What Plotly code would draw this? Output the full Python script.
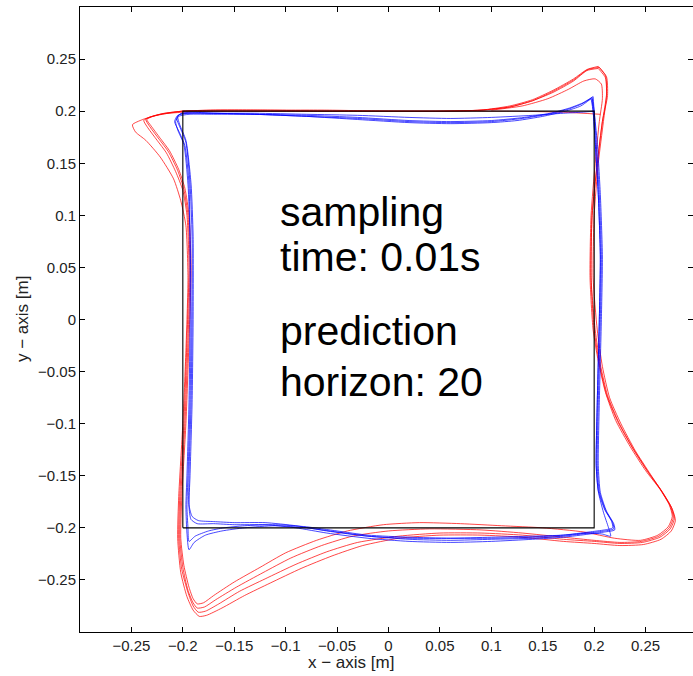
import plotly.graph_objects as go

# ---------------- data ----------------
ref_x = [-0.2, 0.2, 0.2, -0.2, -0.2]
ref_y = [-0.2, -0.2, 0.2, 0.2, -0.2]

# red trajectory, counter-clockwise, split per lap (x, y)
red_lap1 = [(0.206, 0.197), (0.17, 0.199), (0.12, 0.2), (0.06, 0.2), (0.0, 0.2), (-0.06, 0.2),
            (-0.12, 0.2), (-0.17, 0.2), (-0.2, 0.199), (-0.222, 0.197), (-0.239, 0.192),
            (-0.249, 0.187), (-0.246, 0.18), (-0.236, 0.172), (-0.222, 0.156), (-0.209, 0.135),
            (-0.202, 0.114), (-0.197, 0.09), (-0.195, 0.04), (-0.197, -0.03), (-0.2, -0.1),
            (-0.204, -0.17), (-0.205, -0.21), (-0.202, -0.243), (-0.196, -0.266), (-0.19, -0.279),
            (-0.184, -0.285), (-0.177, -0.284), (-0.162, -0.277), (-0.14, -0.265), (-0.115, -0.253),
            (-0.085, -0.239), (-0.055, -0.227), (-0.025, -0.217), (0.01, -0.21), (0.05, -0.207),
            (0.09, -0.207), (0.13, -0.209), (0.17, -0.213), (0.2, -0.215), (0.225, -0.217),
            (0.248, -0.216), (0.265, -0.211), (0.275, -0.203), (0.279, -0.193), (0.276, -0.182),
            (0.267, -0.167), (0.255, -0.149), (0.24, -0.126), (0.226, -0.1), (0.215, -0.075),
            (0.208, -0.045), (0.203, -0.01), (0.199, 0.04), (0.2, 0.1), (0.204, 0.15),
            (0.209, 0.19), (0.212, 0.215), (0.211, 0.232), (0.204, 0.241)]
red_lap2 = [(0.204, 0.241), (0.193, 0.239), (0.18, 0.229), (0.16, 0.218), (0.14, 0.21), (0.118, 0.204),
            (0.09, 0.201), (0.05, 0.2), (0.0, 0.2), (-0.06, 0.2), (-0.12, 0.201), (-0.17, 0.201),
            (-0.2, 0.2), (-0.22, 0.197), (-0.233, 0.194), (-0.238, 0.191), (-0.234, 0.184),
            (-0.225, 0.172), (-0.216, 0.16), (-0.207, 0.142), (-0.2, 0.124), (-0.196, 0.1),
            (-0.194, 0.05), (-0.196, -0.02), (-0.199, -0.1), (-0.203, -0.17), (-0.204, -0.21),
            (-0.201, -0.24), (-0.195, -0.262), (-0.19, -0.275), (-0.185, -0.281), (-0.178, -0.28),
            (-0.165, -0.273), (-0.145, -0.261), (-0.12, -0.249), (-0.09, -0.235), (-0.06, -0.223),
            (-0.03, -0.214), (0.01, -0.208), (0.05, -0.205), (0.09, -0.205), (0.13, -0.207),
            (0.17, -0.211), (0.2, -0.213), (0.225, -0.215), (0.247, -0.214), (0.264, -0.209),
            (0.274, -0.201), (0.278, -0.191), (0.275, -0.18), (0.266, -0.165), (0.253, -0.147),
            (0.238, -0.124), (0.224, -0.099), (0.213, -0.073), (0.206, -0.043), (0.201, -0.01),
            (0.197, 0.04), (0.198, 0.1), (0.203, 0.15), (0.208, 0.19), (0.212, 0.216),
            (0.211, 0.234), (0.204, 0.243)]
red_lap3 = [(0.204, 0.243), (0.193, 0.24), (0.18, 0.231), (0.16, 0.22), (0.14, 0.211), (0.118, 0.205),
            (0.09, 0.201), (0.05, 0.2), (0.0, 0.2), (-0.06, 0.201), (-0.12, 0.201), (-0.17, 0.201),
            (-0.2, 0.2), (-0.218, 0.198), (-0.23, 0.195), (-0.236, 0.192), (-0.232, 0.185),
            (-0.223, 0.173), (-0.214, 0.161), (-0.205, 0.143), (-0.199, 0.125), (-0.195, 0.1),
            (-0.193, 0.05), (-0.195, -0.02), (-0.198, -0.1), (-0.202, -0.17), (-0.203, -0.21),
            (-0.2, -0.238), (-0.195, -0.26), (-0.19, -0.272), (-0.186, -0.277), (-0.179, -0.276),
            (-0.168, -0.269), (-0.148, -0.257), (-0.122, -0.243), (-0.095, -0.229), (-0.065, -0.217),
            (-0.035, -0.208), (0.0, -0.203), (0.04, -0.201), (0.09, -0.202), (0.13, -0.205),
            (0.17, -0.209), (0.2, -0.212), (0.225, -0.214), (0.246, -0.213), (0.263, -0.208),
            (0.273, -0.2), (0.277, -0.19), (0.274, -0.179), (0.265, -0.164), (0.252, -0.146),
            (0.237, -0.123), (0.223, -0.098), (0.212, -0.072), (0.205, -0.042), (0.2, -0.01),
            (0.197, 0.04), (0.198, 0.1), (0.203, 0.15), (0.208, 0.19), (0.213, 0.215),
            (0.212, 0.233), (0.205, 0.242)]
red_lap4 = [(0.205, 0.242), (0.194, 0.24), (0.18, 0.23), (0.16, 0.219), (0.14, 0.21), (0.118, 0.204),
            (0.09, 0.201), (0.05, 0.2), (0.0, 0.2), (-0.06, 0.2), (-0.12, 0.2), (-0.17, 0.2),
            (-0.2, 0.2), (-0.217, 0.198), (-0.229, 0.195), (-0.235, 0.192), (-0.231, 0.186),
            (-0.222, 0.174), (-0.213, 0.162), (-0.204, 0.144), (-0.198, 0.126), (-0.194, 0.1),
            (-0.192, 0.05), (-0.194, -0.02), (-0.197, -0.1), (-0.201, -0.17), (-0.202, -0.21),
            (-0.199, -0.236), (-0.194, -0.257), (-0.19, -0.268), (-0.186, -0.273), (-0.18, -0.272),
            (-0.17, -0.265), (-0.15, -0.252), (-0.125, -0.238), (-0.1, -0.224), (-0.07, -0.212),
            (-0.04, -0.203), (-0.005, -0.197), (0.03, -0.195), (0.07, -0.196), (0.11, -0.198),
            (0.15, -0.2), (0.19, -0.204), (0.22, -0.21), (0.245, -0.212), (0.262, -0.207),
            (0.272, -0.199), (0.276, -0.189), (0.273, -0.178), (0.264, -0.163), (0.25, -0.145),
            (0.235, -0.122), (0.221, -0.097), (0.211, -0.07), (0.204, -0.04), (0.199, -0.01),
            (0.196, 0.04), (0.197, 0.1), (0.201, 0.15), (0.205, 0.19), (0.208, 0.212),
            (0.207, 0.226), (0.201, 0.231), (0.19, 0.229), (0.175, 0.221), (0.155, 0.212),
            (0.13, 0.205), (0.1, 0.201)]

# blue trajectory, counter-clockwise, split per lap (x, y)
blue_lap1 = [(0.2, 0.2), (0.188, 0.199), (0.17, 0.198), (0.14, 0.196), (0.1, 0.194), (0.06, 0.193),
             (0.02, 0.194), (-0.03, 0.196), (-0.08, 0.197), (-0.13, 0.198), (-0.17, 0.198),
             (-0.195, 0.198), (-0.205, 0.196), (-0.208, 0.19), (-0.204, 0.181), (-0.198, 0.167),
             (-0.194, 0.13), (-0.193, 0.08), (-0.193, 0.0), (-0.194, -0.08), (-0.196, -0.15),
             (-0.197, -0.18), (-0.196, -0.205), (-0.194, -0.221), (-0.189, -0.214),
             (-0.178, -0.207), (-0.162, -0.203), (-0.14, -0.2), (-0.11, -0.198), (-0.08, -0.2),
             (-0.05, -0.204), (-0.02, -0.208), (0.02, -0.211), (0.06, -0.212), (0.1, -0.211),
             (0.14, -0.21), (0.17, -0.208), (0.195, -0.205), (0.21, -0.203), (0.219, -0.201),
             (0.218, -0.195), (0.211, -0.183), (0.205, -0.165), (0.203, -0.14), (0.204, -0.08),
             (0.206, 0.0), (0.207, 0.06), (0.205, 0.12), (0.202, 0.17), (0.2, 0.2), (0.198, 0.213)]
blue_lap2 = [(0.198, 0.213), (0.188, 0.207), (0.175, 0.202), (0.155, 0.197), (0.13, 0.193),
             (0.1, 0.19), (0.06, 0.189), (0.02, 0.19), (-0.03, 0.193), (-0.08, 0.195),
             (-0.13, 0.197), (-0.17, 0.198), (-0.193, 0.198), (-0.203, 0.197), (-0.206, 0.193),
             (-0.203, 0.185), (-0.197, 0.17), (-0.193, 0.13), (-0.191, 0.08), (-0.191, 0.0),
             (-0.192, -0.08), (-0.194, -0.15), (-0.194, -0.178), (-0.191, -0.189), (-0.185, -0.193),
             (-0.17, -0.194), (-0.15, -0.195), (-0.12, -0.195), (-0.09, -0.198), (-0.06, -0.203),
             (-0.02, -0.208), (0.02, -0.21), (0.06, -0.21), (0.1, -0.209), (0.14, -0.208),
             (0.17, -0.207), (0.195, -0.205), (0.208, -0.206), (0.216, -0.208), (0.214, -0.2),
             (0.209, -0.185), (0.204, -0.165), (0.202, -0.14), (0.203, -0.08), (0.205, 0.0),
             (0.206, 0.06), (0.204, 0.12), (0.201, 0.17), (0.199, 0.2), (0.197, 0.212)]
blue_lap3 = [(0.197, 0.212), (0.187, 0.205), (0.172, 0.2), (0.15, 0.195), (0.125, 0.191),
             (0.1, 0.189), (0.06, 0.188), (0.02, 0.189), (-0.03, 0.192), (-0.08, 0.195),
             (-0.13, 0.197), (-0.17, 0.198), (-0.192, 0.199), (-0.201, 0.198), (-0.205, 0.195),
             (-0.203, 0.187), (-0.197, 0.172), (-0.192, 0.13), (-0.19, 0.08), (-0.19, 0.0),
             (-0.191, -0.08), (-0.193, -0.15), (-0.194, -0.18), (-0.192, -0.192), (-0.186, -0.196),
             (-0.17, -0.196), (-0.15, -0.197), (-0.12, -0.197), (-0.09, -0.2), (-0.06, -0.205),
             (-0.02, -0.21), (0.02, -0.213), (0.06, -0.214), (0.1, -0.213), (0.14, -0.211),
             (0.17, -0.209), (0.195, -0.206), (0.21, -0.204), (0.22, -0.202), (0.219, -0.196),
             (0.212, -0.184), (0.206, -0.166), (0.204, -0.14), (0.205, -0.08), (0.207, 0.0),
             (0.208, 0.06), (0.206, 0.12), (0.203, 0.17), (0.2, 0.2), (0.199, 0.214)]
blue_lap4 = [(0.199, 0.214), (0.189, 0.208), (0.176, 0.203), (0.157, 0.198), (0.132, 0.194),
             (0.1, 0.191), (0.06, 0.19), (0.02, 0.191), (-0.03, 0.194), (-0.08, 0.196),
             (-0.13, 0.197), (-0.17, 0.197), (-0.194, 0.197), (-0.204, 0.195), (-0.207, 0.19),
             (-0.205, 0.182), (-0.199, 0.168), (-0.195, 0.13), (-0.193, 0.08), (-0.192, 0.0),
             (-0.193, -0.08), (-0.195, -0.15), (-0.196, -0.18), (-0.195, -0.2), (-0.194, -0.213),
             (-0.188, -0.208), (-0.175, -0.203), (-0.16, -0.2), (-0.14, -0.198), (-0.11, -0.197),
             (-0.08, -0.199), (-0.05, -0.203), (-0.02, -0.207), (0.02, -0.209), (0.06, -0.21),
             (0.1, -0.21), (0.14, -0.209), (0.17, -0.207), (0.195, -0.204), (0.21, -0.202),
             (0.218, -0.2), (0.217, -0.194), (0.21, -0.182), (0.204, -0.164), (0.202, -0.14),
             (0.203, -0.08), (0.205, 0.0), (0.206, 0.06), (0.204, 0.12), (0.201, 0.17),
             (0.199, 0.2), (0.198, 0.212)]

x_ticks = [-0.25, -0.2, -0.15, -0.1, -0.05, 0, 0.05, 0.1, 0.15, 0.2, 0.25]
y_ticks = [-0.25, -0.2, -0.15, -0.1, -0.05, 0, 0.05, 0.1, 0.15, 0.2, 0.25]
x_tick_text = ["\u22120.25", "\u22120.2", "\u22120.15", "\u22120.1", "\u22120.05", "0",
               "0.05", "0.1", "0.15", "0.2", "0.25"]
y_tick_text = x_tick_text
text_lines = ["sampling", "time: 0.01s", "prediction", "horizon: 20"]

# ---------------- figure ----------------
W, H = 693, 676
L, R, T, B = 80, 0, 7, 44
plot_w = W - L - R
plot_h = H - T - B
px_per_unit_x = (697 - L) / 0.6
x_range = [-0.3, -0.3 + plot_w / px_per_unit_x]
y_range = [-0.3, 0.3]

fig = go.Figure()


def add_laps(laps, color):
    for lap in laps:
        fig.add_trace(go.Scatter(
            x=[p[0] for p in lap], y=[p[1] for p in lap], mode="lines",
            line=dict(color=color, width=1, shape="spline", smoothing=0.6),
            hoverinfo="skip", showlegend=False))


add_laps([red_lap1, red_lap2, red_lap3, red_lap4], "rgba(255,0,0,0.72)")
add_laps([blue_lap1, blue_lap2, blue_lap3, blue_lap4], "rgba(0,0,255,0.72)")
fig.add_trace(go.Scatter(x=ref_x, y=ref_y, mode="lines",
                         line=dict(color="black", width=1.1),
                         hoverinfo="skip", showlegend=False))

FONT = "Liberation Sans, Arial, sans-serif"
axis_common = dict(
    showgrid=False, zeroline=False, showline=True, linecolor="black", linewidth=1,
    mirror="allticks", ticks="inside", ticklen=5, tickwidth=1, tickcolor="black",
    tickfont=dict(family=FONT, size=15, color="#222"),
)
fig.update_xaxes(range=x_range, tickvals=x_ticks, ticktext=x_tick_text, **axis_common)
fig.update_yaxes(range=y_range, tickvals=y_ticks, ticktext=y_tick_text, **axis_common)

ann = []
fnt_t = dict(family=FONT, size=17, color="#222")
ann.append(dict(text="x \u2212 axis [m]", xref="paper", yref="paper",
                x=(351 - L) / plot_w, y=(H - B - 662) / plot_h,
                xanchor="center", yanchor="middle", showarrow=False, font=fnt_t))
ann.append(dict(text="y \u2212 axis [m]", xref="paper", yref="paper", textangle=-90,
                x=(22 - L) / plot_w, y=(H - B - 319) / plot_h,
                xanchor="center", yanchor="middle", showarrow=False, font=fnt_t))

line_pix = [212, 257, 331, 382]
for txt, py in zip(text_lines, line_pix):
    ann.append(dict(text=txt, xref="paper", yref="paper",
                    x=(278 - L) / plot_w, y=(H - B - py) / plot_h,
                    xanchor="left", yanchor="middle", showarrow=False,
                    font=dict(family=FONT, size=41, color="black")))

fig.update_layout(
    width=W, height=H, margin=dict(l=L, r=R, t=T, b=B, pad=0),
    paper_bgcolor="white", plot_bgcolor="white", annotations=ann,
)

fig.write_html("out.html",
               config={"displayModeBar": False, "staticPlot": True},
               post_script="document.body.style.margin='0px';"
                           "document.body.style.overflow='hidden';")
